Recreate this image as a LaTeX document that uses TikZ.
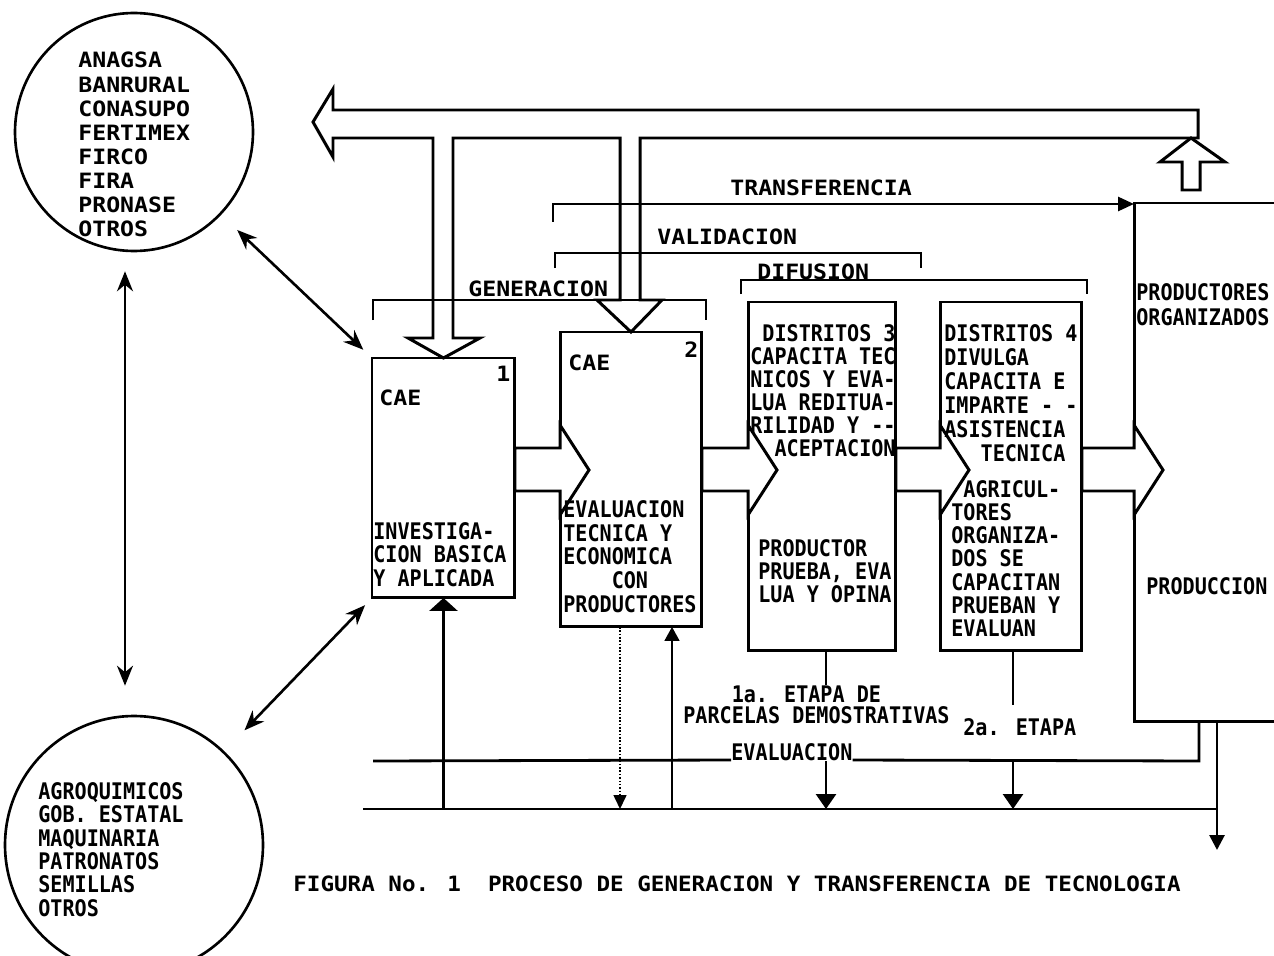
\documentclass[tikz,border=0pt]{standalone}
\usepackage{fontspec}
\usetikzlibrary{arrows.meta, calc, positioning}
\newfontfamily\widefont{DejaVu Sans Mono}[FakeStretch=1.10]
\newfontfamily\narrowfont{DejaVu Sans Mono}[FakeStretch=0.88]
\newfontfamily\capfont{DejaVu Sans Mono}[FakeStretch=1.07]
% hollow block arrow from one stage box into the next
\newcommand{\flowarrow}[2]{%
  \draw[blockline, fill=white] (#1.east |- 0,448) -- (#2.west |- 0,448)
    -- (#2.west |- 0,425) -- ($(#2.west |- 0,470)+(29,0)$)
    -- (#2.west |- 0,515) -- (#2.west |- 0,491) -- (#1.east |- 0,491) -- cycle;}

\begin{document}
\begin{tikzpicture}[
  x=0.02cm, y=-0.02cm,
  stagebox/.style={draw, line width=1.7pt, inner sep=0pt, outer sep=0pt, anchor=north west},
  org/.style={draw, circle, line width=1.5pt, inner sep=0pt},
  blockline/.style={line width=1.7pt, line join=miter},
  bracket/.style={line width=1.6pt},
  flowline/.style={line width=1.6pt},
  thinflow/.style={line width=0.9pt},
  dblarrow/.style={line width=1.5pt,
    {Stealth[length=0.4cm,width=0.32cm]}-{Stealth[length=0.4cm,width=0.32cm]}},
  wtxt/.style={font={\widefont\bfseries\fontsize{12}{#1}\selectfont},
    inner sep=0pt, anchor=north west, align=left},
  wtxt/.default=13.7pt,
  ntxt/.style={font={\narrowfont\bfseries\fontsize{13}{#1}\selectfont},
    inner sep=0pt, anchor=north west, align=left},
  ntxt/.default=13.2pt,
]
\fill[white] (0,0) rectangle (1274,956);
\useasboundingbox (0,0) rectangle (1274,956);

% organisations
\node[org, minimum size=4.76cm] (orgA) at (134,132) {};
\node[org, minimum size=5.16cm] (orgB) at (134,845) {};
\node[wtxt] (orgAtxt) at (78,52)
  {ANAGSA\\BANRURAL\\CONASUPO\\FERTIMEX\\FIRCO\\FIRA\\PRONASE\\OTROS};
\node[ntxt=13.3pt] (orgBtxt) at (38,782)
  {AGROQUIMICOS\\GOB. ESTATAL\\MAQUINARIA\\PATRONATOS\\SEMILLAS\\OTROS};

% stages
\node[stagebox, minimum width=2.86cm, minimum height=4.80cm] (cae1) at (372,358) {};
\node[stagebox, minimum width=2.84cm, minimum height=5.90cm] (cae2) at (560,332) {};
\node[stagebox, minimum width=2.96cm, minimum height=6.98cm] (dist3) at (748,302) {};
\node[stagebox, minimum width=2.84cm, minimum height=6.98cm] (dist4) at (940,302) {};
\node[stagebox, minimum width=4.00cm, minimum height=10.38cm] (prod) at (1134,203) {};

% phase brackets
\draw[bracket] (373,320) -- (373,300) -- (706,300) -- (706,320);
\draw[bracket] (555,268) -- (555,253) -- (921,253) -- (921,268);
\draw[bracket] (741,294) -- (741,280) -- (1087,280) -- (1087,294);
\draw[bracket, -{Triangle[length=0.32cm,width=0.28cm]}]
  (553,222) -- (553,204) -- (prod.north west |- 0,204);
\node[wtxt] (transLbl) at (730,180) {TRANSFERENCIA};
\node[wtxt] (validLbl) at (657,228) {VALIDACION};
\node[wtxt] (difLbl) at (757,264) {DIFUSION};
\node[wtxt] (genLbl) at (468,281) {GENERACION};

% feedback to the organisations
\draw[blockline] (313,122) -- (333,89) -- (333,110) -- (1198,110) -- (1198,138)
  -- (640,138) -- (640,300) -- (662,300) -- (cae2.north) -- (597,300) -- (620,300)
  -- (620,138) -- (453,138) -- (453,338) -- (480,338) -- (cae1.north) -- (408,338)
  -- (433,338) -- (433,138) -- (333,138) -- (333,157) -- cycle;
\draw[blockline] (1182,190) -- (1182,162) -- (1160,162) -- (1191,138)
  -- (1225,162) -- (1200,162) -- (1200,190) -- cycle;

% flow between stages
\flowarrow{cae1}{cae2}
\flowarrow{cae2}{dist3}
\flowarrow{dist3}{dist4}
\flowarrow{dist4}{prod}

\draw[dblarrow] ([xshift=-0.18cm, yshift=-0.38cm]orgA.south)
  -- ([xshift=-0.18cm, yshift=0.58cm]orgB.north);
\draw[dblarrow, shorten <=0.44cm, shorten >=0.24cm] (orgA) -- (cae1.north west);
\draw[dblarrow, shorten <=0.58cm, shorten >=0.2cm] (orgB) -- (cae1.south west);

% stage texts
\node[wtxt] (cae1no) at (496,366) {1};
\node[wtxt] (cae1lbl) at (379,389) {CAE};
\node[ntxt=13.4pt] (cae1txt) at (373,522) {INVESTIGA-\\CION BASICA\\Y APLICADA};
\node[wtxt] (cae2no) at (684,341) {2};
\node[wtxt] (cae2lbl) at (568,354) {CAE};
\node[ntxt=13.5pt] (cae2txt) at (563,500)
  {EVALUACION\\TECNICA Y\\ECONOMICA\\\phantom{XXXX}CON\\PRODUCTORES};
\node[ntxt=13.1pt] (dist3top) at (750,324)
  {\phantom{X}DISTRITOS 3\\CAPACITA TEC\\NICOS Y EVA-\\LUA REDITUA-\\RILIDAD Y --\\\phantom{XX}ACEPTACION};
\node[ntxt=13.1pt] (dist3bot) at (758,539) {PRODUCTOR\\PRUEBA, EVA\\LUA Y OPINA};
\node[ntxt=13.66pt] (dist4top) at (944,324)
  {DISTRITOS 4\\DIVULGA\\CAPACITA E\\IMPARTE - -\\ASISTENCIA\\\phantom{XXX}TECNICA};
\node[ntxt=13.2pt] (dist4bot) at (951,480)
  {\phantom{X}AGRICUL-\\TORES\\ORGANIZA-\\DOS SE\\CAPACITAN\\PRUEBAN Y\\EVALUAN};
\node[ntxt=14.2pt] (prodtop) at (1136,283) {PRODUCTORES\\ORGANIZADOS};
\node[ntxt] (prodtxt) at (1146,577) {PRODUCCION};

% evaluation lines
\node[ntxt=12.5pt] (etapa1) at (683,685) {\phantom{XXXX}1a. ETAPA DE\\PARCELAS DEMOSTRATIVAS};
\node[ntxt] (etapa2) at (963,718) {2a. ETAPA};
\node[ntxt, anchor=base west] (evaltxt) at (731,760) {EVALUACION};
\coordinate (evalL) at (373,761);
\coordinate (evalR) at (1199,761);
\coordinate (lowL) at (363,809);
\coordinate (lowR) at (1217,809);
\coordinate (outTip) at (1217,850);
\coordinate (c2a) at ($(cae2.south west)+(60,0)$);
\coordinate (c2b) at ($(cae2.south west)+(112,0)$);
\coordinate (d3) at ($(dist3.south west)+(78,0)$);
\coordinate (d4) at ($(dist4.south west)+(73,0)$);
\draw[flowline] (evalL) -- (evaltxt.base west);
\draw[flowline] (evaltxt.base east) -- (evalR) -- (evalR |- prod.south);
\draw[flowline] (lowL) -- (lowR);
\draw[flowline, -{Triangle[length=0.3cm,width=0.3cm]}] (lowR |- prod.south) -- (outTip);
\draw[flowline, -{Triangle[length=0.26cm,width=0.56cm]}] (cae1.south |- lowL) -- (cae1.south);
\draw[thinflow, densely dotted, -{Triangle[length=0.28cm,width=0.26cm]}] (c2a) -- (c2a |- lowL);
\draw[thinflow, -{Triangle[length=0.28cm,width=0.3cm]}] (c2b |- lowL) -- (c2b);
\draw[flowline] (d3) -- (d3 |- etapa1.north);
\draw[flowline, -{Triangle[length=0.3cm,width=0.4cm]}] (d3 |- evalL) -- (d3 |- lowL);
\draw[flowline] (d4) -- (d4 |- 0,705);
\draw[flowline, -{Triangle[length=0.3cm,width=0.4cm]}] (d4 |- evalL) -- (d4 |- lowL);

\node[font={\capfont\bfseries\fontsize{12}{14}\selectfont}, inner sep=0pt, anchor=north west]
  (caption) at (293,875) {FIGURA No. 1~~PROCESO DE GENERACION Y TRANSFERENCIA DE TECNOLOGIA};
\end{tikzpicture}
\end{document}
